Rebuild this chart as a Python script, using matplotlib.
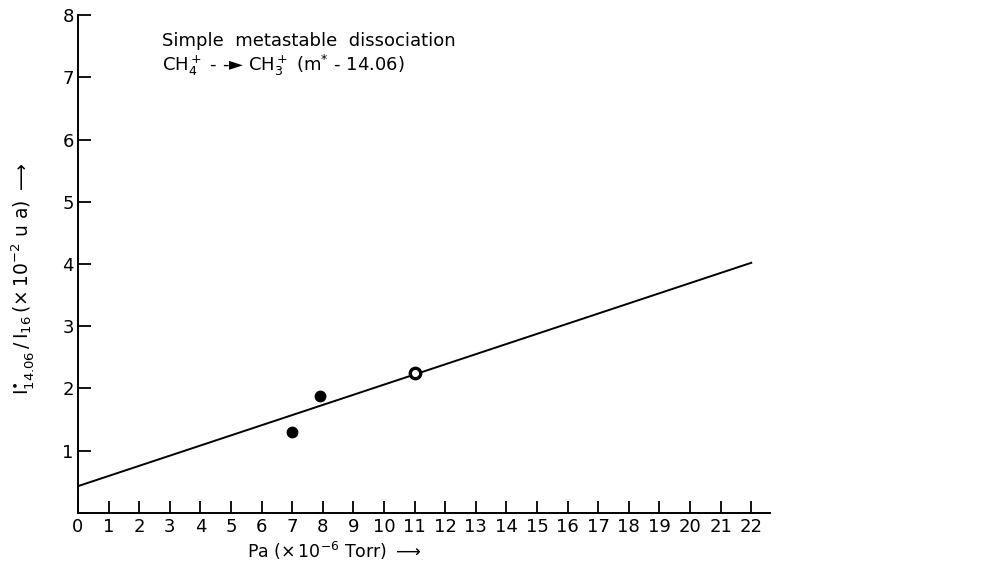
import matplotlib.pyplot as plt
import numpy as np

# measured points (Pa in 1e-6 Torr, ratio in 1e-2 u a)
pa_filled = [7.0, 7.9]
ratio_filled = [1.30, 1.88]
pa_open = [11.0]
ratio_open = [2.25]

# fitted straight line
fit_x = [0, 22]
fit_y = [0.43, 4.02]

x_ticks = list(range(0, 23))
y_ticks = list(range(1, 9))

fig = plt.figure(figsize=(9.81, 5.63), dpi=100)
ax = fig.add_axes([0.0795, 0.089, 0.705, 0.884])

ax.plot(fit_x, fit_y, color='black', lw=1.4)
ax.plot(pa_filled, ratio_filled, 'o', color='black', ms=7.5)
ax.plot(pa_open, ratio_open, 'o', mfc='white', mec='black', mew=2.4, ms=7.5)

ax.set_xlim(0, 22.6)
ax.set_ylim(0, 8)
ax.set_xticks(x_ticks)
ax.set_yticks(y_ticks)
ax.tick_params(direction='in', length=9, width=1.3, labelsize=13)
ax.tick_params(axis='x', pad=4)
ax.tick_params(axis='y', pad=3)
for s in ['top', 'right']:
    ax.spines[s].set_visible(False)
for s in ['left', 'bottom']:
    ax.spines[s].set_linewidth(1.4)

ax.text(0.121, 0.93, 'Simple  metastable  dissociation', transform=ax.transAxes,
        fontsize=13, va='bottom')
ax.text(0.121, 0.925, r'CH$_4^+$ - -► CH$_3^+$ (m$^{*}$ - 14.06)', transform=ax.transAxes,
        fontsize=13, va='top')

ax.set_ylabel(r'$\mathrm{I}^{\bullet}_{14.06}\,/\,\mathrm{I}_{16}\,(\times\,10^{-2}\ \mathrm{u\ a})$ $\longrightarrow$',
              fontsize=13.5)
ax.yaxis.set_label_coords(-0.06, 0.47)
ax.set_xlabel(r'Pa $(\times\,10^{-6}$ Torr$)$ $\longrightarrow$', fontsize=12.5)
ax.xaxis.set_label_coords(0.37, -0.054)

fig.savefig('out.png', dpi=100)
